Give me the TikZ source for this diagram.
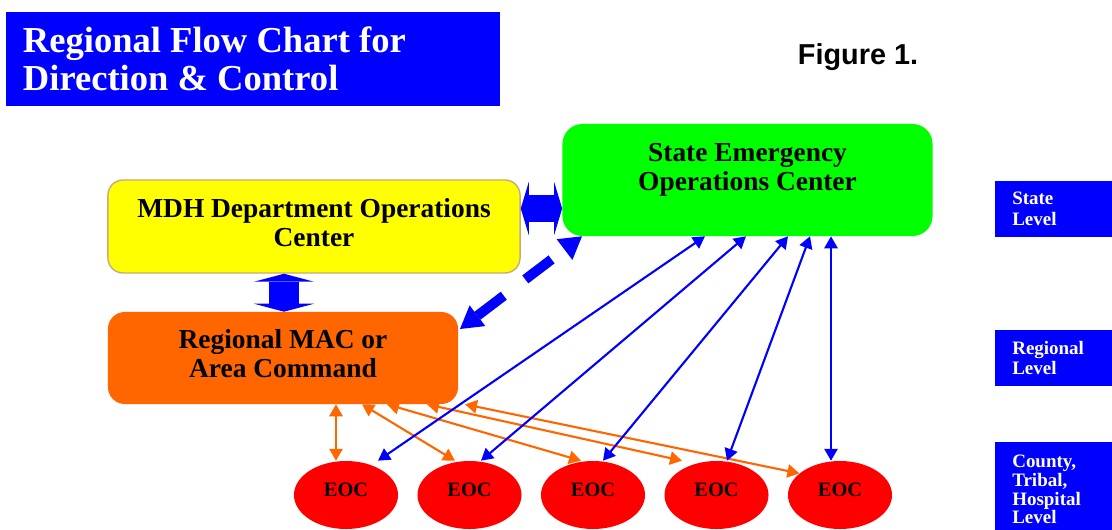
\documentclass[tikz,border=0pt]{standalone}
\usepackage{fontspec}
\setmainfont{Liberation Serif}
\newfontfamily\figfont{Liberation Sans}
\usepackage{tikz}
\usetikzlibrary{shapes.geometric,arrows.meta}
\definecolor{flowblue}{RGB}{0,0,255}
\definecolor{stategreen}{RGB}{0,255,0}
\definecolor{mdhyellow}{RGB}{255,255,0}
\definecolor{mdhtan}{RGB}{200,170,120}
\definecolor{macorange}{RGB}{255,102,0}
\definecolor{eocred}{RGB}{255,0,0}
\tikzset{
titlebox/.style={rectangle, fill=flowblue, text=white, font=\fontsize{26}{27}\selectfont\bfseries, align=flush left, text width=11.5cm, inner xsep=0.425cm, minimum height=2.35cm},
statebox/.style={rectangle, rounded corners=0.5cm, fill=stategreen, inner sep=0pt, minimum width=9.25cm, minimum height=2.8cm},
mdhbox/.style={rectangle, rounded corners=0.38cm, fill=mdhyellow, draw=mdhtan, line width=1pt, inner sep=0pt, minimum width=10.3cm, minimum height=2.325cm},
macbox/.style={rectangle, rounded corners=0.42cm, fill=macorange, inner sep=0pt, minimum width=8.75cm, minimum height=2.3cm},
eocnode/.style={ellipse, fill=eocred, inner sep=0pt, minimum width=2.6cm, minimum height=1.7cm},
levelbox/.style={rectangle, fill=flowblue, text=white, anchor=west, align=flush left, font=\fontsize{13.5}{14.8}\selectfont\bfseries, text width=2.075cm, inner xsep=0.425cm, inner ysep=0pt},
boxtext/.style={font=\fontsize{19.5}{20.6}\selectfont\bfseries, align=center},
eoctext/.style={font=\fontsize{14.5}{15}\selectfont\bfseries},
blockarrowh/.style={draw=flowblue, line width=19.2pt, {Triangle[length=5.7pt,width=37.7pt,line width=0pt]}-{Triangle[length=5.7pt,width=37.7pt,line width=0pt]}},
blockarrowv/.style={draw=flowblue, line width=21.3pt, {Triangle[length=5.7pt,width=42.7pt,line width=0pt]}-{Triangle[length=5.7pt,width=42.7pt,line width=0pt]}},
dashedarrowv1/.style={draw=flowblue, line width=7.1pt, dash pattern=on 23.5pt off 19.2pt, {Triangle[length=15.6pt,width=18.5pt,line width=0pt]}-{Triangle[length=15.6pt,width=18.5pt,line width=0pt]}},
bluearrowv1/.style={draw=flowblue, line width=1.5pt, {Triangle[length=8.5pt,width=9.4pt]}-{Triangle[length=8.5pt,width=9.4pt]}},
orangearrowv1/.style={draw=macorange, line width=1.5pt, {Triangle[length=8.5pt,width=9.4pt]}-{Triangle[length=8.5pt,width=9.4pt]}},
}

\begin{document}
\begin{tikzpicture}[x=0.025cm, y=0.025cm]
\useasboundingbox (0,0) rectangle (1112,529);
\node[titlebox] at (253,470) (title) {Regional Flow Chart for\\Direction \& Control};
\node[font=\figfont\fontsize{20.5}{22}\selectfont\bfseries] at (858,472) (fig) {Figure 1.};
\node[statebox] at (747.5,349) (state) [label = {[boxtext, yshift=7pt]center:State Emergency\\Operations Center}] {};
\node[mdhbox] at (314,302.5) (mdh) [label = {[boxtext, yshift=2.7pt]center:MDH Department Operations\\Center}] {};
\node[macbox] at (283,171) (mac) [label = {[boxtext, yshift=3.4pt]center:Regional MAC or\\Area Command}] {};
\node[eocnode] at (346,34) (e1) [label = {[eoctext, yshift=3.8pt]center:EOC}] {};
\node[eocnode] at (469.5,34) (e2) [label = {[eoctext, yshift=3.8pt]center:EOC}] {};
\node[eocnode] at (593,34) (e3) [label = {[eoctext, yshift=3.8pt]center:EOC}] {};
\node[eocnode] at (716.5,34) (e4) [label = {[eoctext, yshift=3.8pt]center:EOC}] {};
\node[eocnode] at (840,34) (e5) [label = {[eoctext, yshift=3.8pt]center:EOC}] {};
\node[levelbox, minimum height=1.4cm] at (995,320) (statelevel) {State\\Level};
\node[levelbox, minimum height=1.4cm] at (995,171) (reglevel) {Regional\\Level};
\node[levelbox, minimum height=2.375cm, font=\fontsize{13.5}{13.4}\selectfont\bfseries] at (995,39.5) (countylevel) {County,\\Tribal,\\Hospital\\Level};
\draw[blockarrowh] (mdh.east |- 0,320.5) to (state.west |- 0,320.5);
\draw[blockarrowv] (284,0 |- mdh.south) to (284,0 |- mac.north);
\draw[dashedarrowv1] (460,0 |- 0,200) to (582,0 |- state.south);
%mac to eoc
\draw[orangearrowv1] (336,0 |- mac.south) to (336,0 |- e1.north);
\draw[orangearrowv1] (362,0 |- mac.south) to (455,0 |- e2.north);
\draw[orangearrowv1] (387,0 |- mac.south) to (581,0 |- e3.north);
\draw[orangearrowv1] (427,0 |- mac.south) to (682,0 |- e4.north);
\draw[orangearrowv1] (465,0 |- mac.south) to (e5.152);
%state to eoc
\draw[bluearrowv1] (705,0 |- state.south) to (378,0 |- e1.north);
\draw[bluearrowv1] (746,0 |- state.south) to (481,0 |- e2.north);
\draw[bluearrowv1] (788,0 |- state.south) to (603,0 |- e3.north);
\draw[bluearrowv1] (810,0 |- state.south) to (727,0 |- e4.north);
\draw[bluearrowv1] (831,0 |- state.south) to (831,0 |- e5.north);
\end{tikzpicture}
\end{document}
